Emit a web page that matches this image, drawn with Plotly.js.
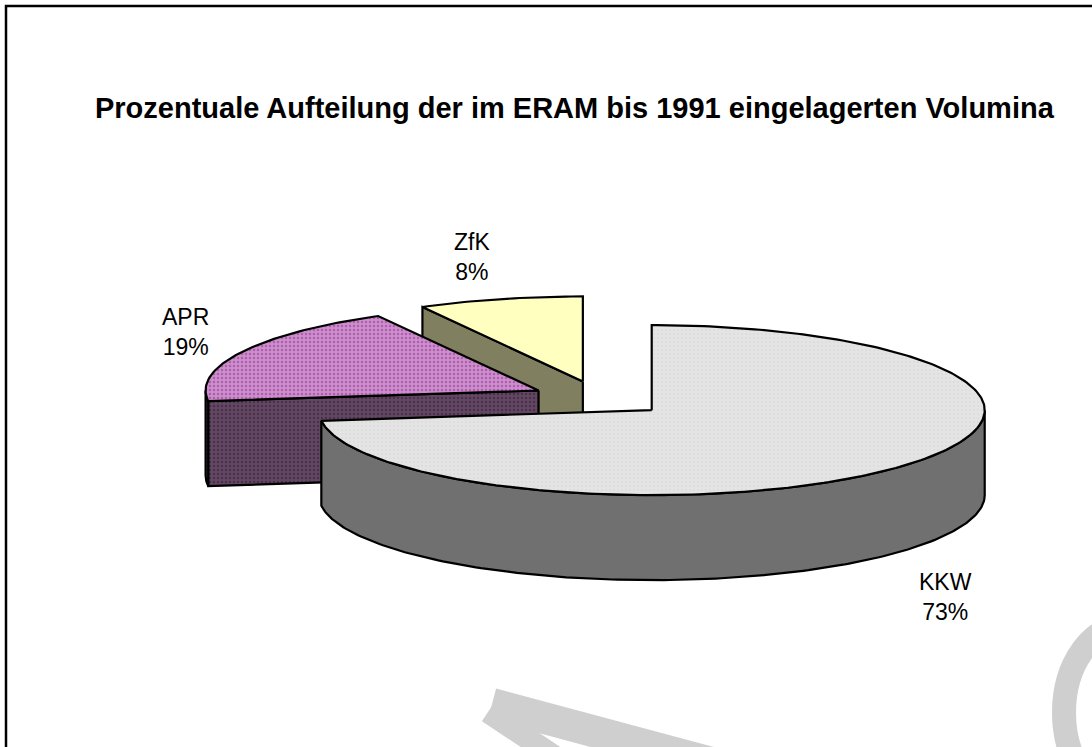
<!DOCTYPE html>
<html><head><meta charset="utf-8">
<script src="https://cdn.plot.ly/plotly-3.0.1.min.js"></script>
<style>html,body{margin:0;padding:0;background:#fff;overflow:hidden}#chart{width:1092px;height:747px}</style>
</head><body><div id="chart"></div>
<script>
// ---- data ----
const categories = ['KKW', 'APR', 'ZfK'];
const percentValues = [73, 19, 8];
const titleText = 'Prozentuale Aufteilung der im ERAM bis 1991 eingelagerten Volumina';

// ---- styles ----
const topColors = ['#e3e3e3', '#cc88cc', '#ffffc0'];
const sideColors = ['#707070', '#5f445f', '#808060'];
const topPatterns = [
  {shape: '.', bgcolor: '#e4e4e4', fgcolor: '#d8d8d8', size: 4, solidity: 0.15, fillmode: 'replace'},
  {shape: '.', bgcolor: '#cf8ccf', fgcolor: '#a565a5', size: 4, solidity: 0.3, fillmode: 'replace'},
  null
];
const sidePatterns = [
  null,
  {shape: '.', bgcolor: '#624862', fgcolor: '#4a304a', size: 4, solidity: 0.3, fillmode: 'replace'},
  null
];
const labelPos = [[945, 597], [185, 332], [472, 257]];

// ---- 3D pie geometry (pixel space) ----
const geo = {cx: 600, cy: 398.5, rx: 333, ry: 85, depth: 85, explode: 0.207};
const rad = d => d * Math.PI / 180;
function pt(c, a, dy) { return [c[0] + geo.rx * Math.sin(rad(a)), c[1] - geo.ry * Math.cos(rad(a)) + (dy || 0)]; }
function arc(c, a0, a1, dy) {
  const out = []; const n = Math.max(2, Math.ceil(Math.abs(a1 - a0)));
  for (let k = 0; k <= n; k++) out.push(pt(c, a0 + (a1 - a0) * k / n, dy));
  return out;
}
const total = percentValues.reduce((s, v) => s + v, 0);
const slices = []; let cum = 0;
percentValues.forEach((v, i) => {
  const a0 = cum / total * 360, a1 = (cum + v) / total * 360; cum += v;
  const b = (a0 + a1) / 2;
  const c = [geo.cx + geo.rx * geo.explode * Math.sin(rad(b)), geo.cy - geo.ry * geo.explode * Math.cos(rad(b))];
  slices.push({i, a0, a1, c});
});

const traces = [];
function poly(points, fill, pattern, name) {
  const xs = points.map(p => p[0]).concat([points[0][0]]);
  const ys = points.map(p => p[1]).concat([points[0][1]]);
  const t = {type: 'scatter', mode: 'lines', x: xs, y: ys, fill: 'toself', fillcolor: fill,
    line: {color: '#000', width: 2.2}, hoverinfo: 'text', text: name, showlegend: false};
  if (pattern) t.fillpattern = pattern;
  traces.push(t);
}
// draw back slices first
slices.slice().reverse().forEach(s => {
  const d = geo.depth, name = categories[s.i] + ' ' + percentValues[s.i] + '%';
  if (Math.sin(rad(s.a0)) < -1e-9) {
    const p = pt(s.c, s.a0);
    poly([s.c, p, [p[0], p[1] + d], [s.c[0], s.c[1] + d]], sideColors[s.i], sidePatterns[s.i], name);
  }
  if (Math.sin(rad(s.a1)) > 1e-9) {
    const p = pt(s.c, s.a1);
    poly([s.c, p, [p[0], p[1] + d], [s.c[0], s.c[1] + d]], sideColors[s.i], sidePatterns[s.i], name);
  }
  const w0 = Math.max(s.a0, 90), w1 = Math.min(s.a1, 270);
  if (w1 > w0) {
    poly(arc(s.c, w0, w1, 0).concat(arc(s.c, w1, w0, d)), sideColors[s.i], sidePatterns[s.i], name);
  }
  poly([s.c].concat(arc(s.c, s.a0, s.a1, 0)), topColors[s.i], topPatterns[s.i], name);
});

const annotations = categories.map((c, i) => ({
  x: labelPos[i][0], y: labelPos[i][1], xref: 'x', yref: 'y', showarrow: false,
  text: c + '<br>' + percentValues[i] + '%', align: 'center',
  font: {family: 'Liberation Sans, Arial, sans-serif', size: 23, color: '#000'}
}));

const layout = {
  width: 1092, height: 747,
  margin: {l: 0, r: 0, t: 0, b: 0, pad: 0},
  paper_bgcolor: '#fff', plot_bgcolor: '#fff',
  title: {text: '<b>' + titleText + '</b>', x: 0.526, xanchor: 'center', y: 1 - 108 / 747, yref: 'container', yanchor: 'middle',
    font: {family: 'Liberation Sans, Arial, sans-serif', size: 29, color: '#000'}},
  xaxis: {range: [0, 1092], autorange: false, visible: false, fixedrange: true},
  yaxis: {range: [747, 0], autorange: false, visible: false, fixedrange: true},
  annotations: annotations,
  shapes: [
    // watermark fragments
    {type: 'line', xref: 'x', yref: 'y', x0: 492, y0: 704, x1: 790, y1: 784, line: {color: '#cfcfcf', width: 32}, layer: 'below'},
    {type: 'line', xref: 'x', yref: 'y', x0: 488, y0: 712, x1: 575, y1: 770, line: {color: '#cfcfcf', width: 22}, layer: 'below'},
    {type: 'line', xref: 'x', yref: 'y', x0: 650, y0: 740, x1: 615, y1: 770, line: {color: '#cfcfcf', width: 22}, layer: 'below'},
    {type: 'circle', xref: 'x', yref: 'y', x0: 1064, y0: 625, x1: 1190, y1: 800, line: {color: '#cfcfcf', width: 24}, layer: 'below'},
    // frame
    {type: 'rect', xref: 'x', yref: 'y', x0: 6, y0: 6, x1: 1110, y1: 770, line: {color: '#000', width: 2.5}}
  ]
};

Plotly.newPlot('chart', traces, layout, {displayModeBar: false, staticPlot: true});
</script>
</body></html>
